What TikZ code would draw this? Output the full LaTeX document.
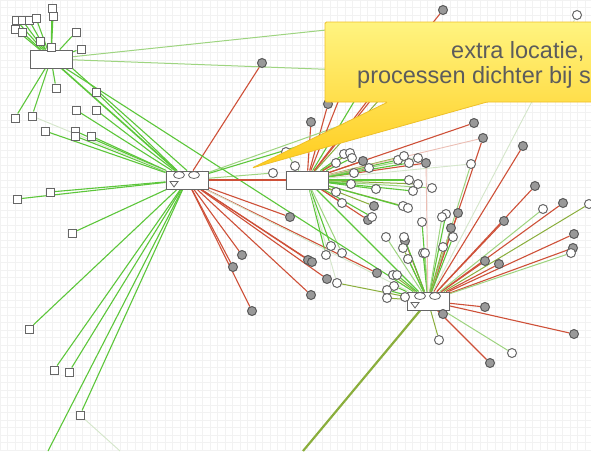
\documentclass[tikz,border=0pt]{standalone}
\usepackage{fontspec}
\setmainfont{Liberation Sans}
\usetikzlibrary{backgrounds, calc}
\definecolor{wiregreen}{RGB}{92,198,58}
\definecolor{wirelight}{RGB}{158,212,128}
\definecolor{wirered}{RGB}{206,80,56}
\definecolor{wireolive}{RGB}{138,174,60}
\definecolor{wirefaint}{RGB}{212,230,202}
\definecolor{wirepink}{RGB}{236,190,180}
\definecolor{noteedge}{RGB}{238,192,40}
\definecolor{notetop}{RGB}{255,244,128}
\definecolor{notebot}{RGB}{255,204,30}
\definecolor{notetext}{RGB}{92,92,92}
\tikzset{
  hubbox/.style={draw=black!60, fill=white, line width=0.9pt, minimum width=42pt, minimum height=18pt, inner sep=0pt},
  sqnode/.style={draw=black!60, fill=white, line width=1pt, minimum size=8pt, inner sep=0pt},
  wnode/.style={circle, draw=black!60, fill=white, line width=1pt, minimum size=9pt, inner sep=0pt},
  gnode/.style={circle, draw=black!65, fill=black!40, line width=1pt, minimum size=9pt, inner sep=0pt},
  hubmark/.style={draw=black!60, line width=0.8pt},
  gwire/.style={draw=wiregreen, line width=1.1pt},
  lwire/.style={draw=wirelight, line width=1pt},
  rwire/.style={draw=wirered, line width=1.1pt},
  owire/.style={draw=wireolive, line width=1pt},
  fwire/.style={draw=wirefaint, line width=0.9pt},
  pwire/.style={draw=wirepink, line width=0.9pt},
  callout/.style={draw=noteedge, line width=0.8pt, rounded corners=1.5pt, top color=notetop, bottom color=notebot},
  notetxt/.style={text=notetext, inner sep=0pt, anchor=base west, font=\fontsize{23.5pt}{28pt}\selectfont}
}

\begin{document}
\begin{tikzpicture}[x=1pt, y=-1pt]
  \useasboundingbox (0,0) rectangle (591,451);
  \begin{scope}[on background layer]
    \fill[white] (0,0) rectangle (591,451);
    \draw[black!5, line width=0.3pt, step=7.5pt] (0,0) grid (591,451);
  \end{scope}

  % hubs
  \node[hubbox] (A) at (51,59) {};
  \node[hubbox] (B) at (187,180) {};
  \node[hubbox] (C) at (307,180) {};
  \node[hubbox] (D) at (428,301) {};
  \foreach \h in {B,D} {
    \draw[hubmark] ($(\h.center)+(-8,-5)$) ellipse [x radius=5.5, y radius=3.5];
    \draw[hubmark] ($(\h.center)+(7,-5)$) ellipse [x radius=5.5, y radius=3.5];
    \draw[hubmark] ($(\h.center)+(-17,1.5)$) -- ($(\h.center)+(-9,1.5)$) -- ($(\h.center)+(-13,7)$) -- cycle;
  }

  % loose ends under the note
  \coordinate (h1) at (345,28);
  \coordinate (h2) at (345,70);
  \coordinate (h3) at (362,118);
  \coordinate (h4) at (372,124);
  \coordinate (h5) at (340,97);
  \coordinate (h6) at (355,100);
  \coordinate (h7) at (368,100);
  \coordinate (h8) at (380,99);
  \coordinate (e1) at (48,451);
  \coordinate (e2) at (120,451);
  \coordinate (e3) at (303,451);

  % leaves of A
  \foreach \x/\y [count=\i] in {52/8, 53/16, 16/20, 22/20, 29/20, 36/18, 15/29, 22/32,
      40/41, 51/47, 76/32, 81/49, 56/88, 15/118, 32/116} {
    \node[sqnode] (a\i) at (\x,\y) {};
    \begin{scope}[on background layer]
      \draw[gwire] (A) -- (a\i);
    \end{scope}
  }

  % leaves of B
  \foreach \x/\y [count=\i] in {96/92, 76/110, 96/110, 45/131, 75/131, 75/136, 91/136,
      17/199, 50/192, 72/233, 29/329, 54/370, 69/372, 80/415} {
    \node[sqnode] (b\i) at (\x,\y) {};
    \begin{scope}[on background layer]
      \draw[gwire] (B) -- (b\i);
    \end{scope}
  }
  \foreach \x/\y/\s/\w [count=\i] in {262/63/gnode/rwire, 290/217/gnode/rwire,
      242/255/gnode/rwire, 233/267/gnode/rwire, 252/311/gnode/rwire, 308/260/gnode/rwire,
      312/262/gnode/rwire, 327/279/gnode/rwire, 311/295/gnode/rwire, 377/273/gnode/rwire,
      273/173/wnode/lwire} {
    \node[\s] (bc\i) at (\x,\y) {};
    \begin{scope}[on background layer]
      \draw[\w] (B) -- (bc\i);
    \end{scope}
  }

  % leaves of C
  \foreach \x/\y/\s/\w [count=\i] in {311/122/gnode/rwire, 328/104/gnode/rwire,
      443/10/gnode/rwire, 474/123/gnode/rwire, 363/161/gnode/rwire, 426/163/gnode/rwire,
      368/220/gnode/rwire, 374/206/gnode/owire, 295/166/wnode/lwire, 344/154/wnode/gwire,
      350/153/wnode/owire, 352/158/wnode/gwire, 336/163/wnode/rwire, 369/168/wnode/rwire,
      398/160/wnode/gwire, 404/156/wnode/owire, 409/163/wnode/gwire, 418/158/wnode/lwire,
      354/173/wnode/gwire, 409/180/wnode/gwire, 418/184/wnode/owire, 413/191/wnode/gwire,
      432/188/wnode/lwire, 351/184/wnode/gwire, 376/189/wnode/gwire, 336/192/wnode/owire,
      342/203/wnode/rwire, 372/217/wnode/gwire, 403/206/wnode/owire, 408/208/wnode/gwire,
      331/246/wnode/gwire, 326/255/wnode/gwire, 342/253/wnode/lwire, 337/283/wnode/fwire} {
    \node[\s] (c\i) at (\x,\y) {};
    \begin{scope}[on background layer]
      \draw[\w] (C) -- (c\i);
    \end{scope}
  }
  \node[wnode] (c35) at (286,152) {};

  % leaves of D
  \foreach \x/\y/\s/\w [count=\i] in {535/186/gnode/rwire, 563/203/gnode/rwire,
      504/221/gnode/rwire, 574/234/gnode/rwire, 573/248/gnode/rwire, 485/261/gnode/rwire,
      499/264/gnode/rwire, 523/146/gnode/rwire, 483/138/gnode/rwire, 458/213/gnode/rwire,
      451/228/gnode/rwire, 405/241/gnode/rwire, 485/307/gnode/rwire, 443/314/gnode/rwire,
      574/334/gnode/rwire, 490/363/gnode/rwire, 543/209/wnode/lwire, 589/204/wnode/owire,
      571/253/wnode/lwire, 471/164/wnode/lwire, 446/214/wnode/gwire, 442/217/wnode/lwire,
      453/237/wnode/gwire, 443/247/wnode/owire, 422/222/wnode/gwire, 386/237/wnode/lwire,
      404/237/wnode/gwire, 403/248/wnode/owire, 408/259/wnode/gwire, 423/253/wnode/gwire,
      425/253/wnode/lwire, 393/275/wnode/owire, 397/275/wnode/gwire, 394/286/wnode/gwire,
      387/290/wnode/gwire, 387/298/wnode/owire, 405/297/wnode/gwire, 439/340/wnode/owire,
      512/353/wnode/lwire, 577/15/wnode/fwire} {
    \node[\s] (d\i) at (\x,\y) {};
    \begin{scope}[on background layer]
      \draw[\w] (D) -- (d\i);
    \end{scope}
  }

  % links between hubs and the rest
  \begin{scope}[on background layer]
    \draw[gwire, line width=1.6pt] (A) -- (B);
    \draw[gwire] (A.south east) -- (B.north);
    \draw[gwire] (A) -- (D);
    \draw[lwire] (A) -- (h1);
    \draw[lwire] (A) -- (h2);
    \draw[rwire, line width=1.6pt] (B) -- (C);
    \draw[fwire] (B) -- (D);
    \draw[lwire] (B) -- (h3);
    \draw[gwire] (B) -- (h4);
    \draw[gwire] (B) -- (e1);
    \draw[fwire] (a15) -- (B);
    \draw[fwire] (b14) -- (e2);
    \draw[lwire] (c35) -- (c9);
    \draw[gwire] (C) -- (D);
    \draw[rwire] (C) -- (h5);
    \draw[gwire] (C) -- (h6);
    \draw[rwire] (C) -- (h7);
    \draw[owire] (C) -- (h8);
    \draw[fwire] (C) -- (d20);
    \draw[pwire] (C) -- (d9);
    \draw[owire] (c34) -- (D);
    \draw[pwire] (c6) -- (D);
    \draw[owire, line width=2.2pt] (D) -- (e3);
  \end{scope}

  % note
  \path[callout] (325,22) -- (600,22) -- (600,102) -- (487,102) -- (252,168)
    -- (388,102) -- (325,102) -- cycle;
  \node[notetxt] (t1) at (451,58) {extra locatie,};
  \node[notetxt] (t2) at (357,83) {processen dichter bij s};
\end{tikzpicture}
\end{document}
